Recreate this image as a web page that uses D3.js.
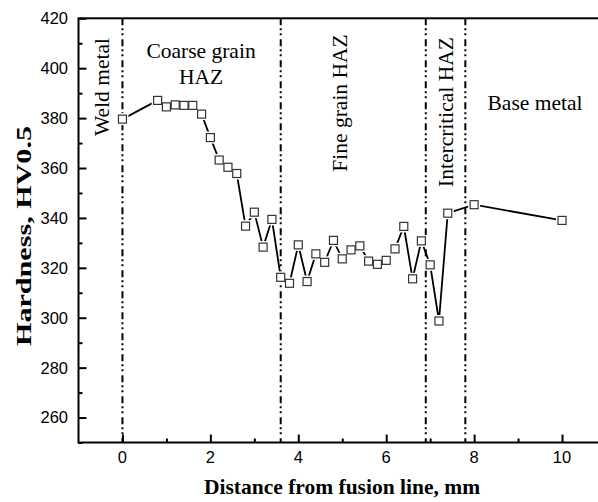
<!DOCTYPE html>
<html>
<head>
<meta charset="utf-8">
<script src="https://cdn.jsdelivr.net/npm/d3@7"></script>
<style>
  body { margin: 0; background: #fff; }
  svg { display: block; }
</style>
</head>
<body>
<div id="chart"></div>
<script>
'use strict';

// distancia a la linea de fusion (mm) y dureza HV0.5
const distance = [0, 0.8, 1.0, 1.2, 1.4, 1.6, 1.8, 2.0, 2.2, 2.4, 2.6, 2.8, 3.0, 3.2, 3.4,
  3.6, 3.8, 4.0, 4.2, 4.4, 4.6, 4.8, 5.0, 5.2, 5.4, 5.6, 5.8, 6.0, 6.2, 6.4, 6.6,
  6.8, 7.0, 7.2, 7.4, 8.0, 10.0];
const hardness = [379.6, 387.1, 384.5, 385.3, 385.1, 385.1, 381.6, 372.2, 363.2, 360.3, 357.8,
  336.7, 342.3, 328.3, 339.4, 316.2, 313.8, 329.2, 314.5, 325.6, 322.2, 331, 323.6,
  327.2, 328.8, 322.7, 321.4, 323, 327.6, 336.6, 315.6, 330.8, 321.2, 298.7, 341.9,
  345.3, 339];

// limites de zona
const boundaries = [0, 3.6, 6.9, 7.8];

const xTicks = [0, 2, 4, 6, 8, 10];
const xMinor = [1, 3, 5, 7, 9];
const yTicks = [260, 280, 300, 320, 340, 360, 380, 400, 420];
const yMinor = [250, 270, 290, 310, 330, 350, 370, 390, 410];

const xTitle = 'Distance from fusion line, mm';
const yTitle = 'Hardness, HV0.5';

const width = 598;
const height = 502;
const serif = "'Liberation Serif', 'Times New Roman', serif";
const sans = "'Liberation Sans', Arial, sans-serif";

const svg = d3.select('#chart')
  .append('svg')
  .attr('width', width)
  .attr('height', height);

const scaleX = d3.scaleLinear().domain([-1, 11]).range([78.5, 606]);
const scaleY = d3.scaleLinear().domain([250, 420]).range([442.5, 18.3]);

// lineas de zona
svg.append('g')
  .selectAll('line')
  .data(boundaries)
  .enter()
  .append('line')
  .attr('x1', d => scaleX(d))
  .attr('x2', d => scaleX(d))
  .attr('y1', scaleY(420))
  .attr('y2', scaleY(250))
  .attr('stroke', '#000')
  .attr('stroke-width', 2)
  .attr('stroke-dasharray', '7,3,2,3,2,4');

// ejes (ticks hacia dentro)
function ticks(axis) {
  return g => g
    .call(axis)
    .call(s => s.select('.domain').remove())
    .call(s => s.selectAll('line').attr('stroke-width', 2));
}

svg.append('g')
  .attr('transform', `translate(0, ${scaleY(250)})`)
  .call(ticks(d3.axisTop(scaleX).tickValues(xTicks).tickSize(8).tickFormat('')));

svg.append('g')
  .attr('transform', `translate(0, ${scaleY(250)})`)
  .call(ticks(d3.axisTop(scaleX).tickValues(xMinor).tickSize(4).tickFormat('')));

svg.append('g')
  .attr('transform', `translate(${scaleX(-1)}, 0)`)
  .call(ticks(d3.axisRight(scaleY).tickValues(yTicks).tickSize(8).tickFormat('')));

svg.append('g')
  .attr('transform', `translate(${scaleX(-1)}, 0)`)
  .call(ticks(d3.axisRight(scaleY).tickValues(yMinor).tickSize(4).tickFormat('')));

// marco
svg.append('rect')
  .attr('x', scaleX(-1))
  .attr('y', scaleY(420))
  .attr('width', scaleX(11) - scaleX(-1))
  .attr('height', scaleY(250) - scaleY(420))
  .attr('fill', 'none')
  .attr('stroke', '#000')
  .attr('stroke-width', 2);

// etiquetas de ticks
svg.append('g')
  .selectAll('text')
  .data(xTicks)
  .enter()
  .append('text')
  .attr('x', d => scaleX(d))
  .attr('y', 463)
  .attr('text-anchor', 'middle')
  .attr('font-family', sans)
  .attr('font-size', 16.5)
  .text(d => d);

svg.append('g')
  .selectAll('text')
  .data(yTicks)
  .enter()
  .append('text')
  .attr('x', 68)
  .attr('y', d => scaleY(d))
  .attr('dy', '0.36em')
  .attr('text-anchor', 'end')
  .attr('font-family', sans)
  .attr('font-size', 16.5)
  .text(d => d);

// titulos
svg.append('text')
  .attr('x', 342)
  .attr('y', 494)
  .attr('text-anchor', 'middle')
  .attr('font-family', serif)
  .attr('font-weight', 'bold')
  .attr('font-size', 21.5)
  .text(xTitle);

svg.append('text')
  .attr('transform', 'translate(31, 236) rotate(-90)')
  .attr('text-anchor', 'middle')
  .attr('font-family', serif)
  .attr('font-weight', 'bold')
  .attr('font-size', 21.5)
  .attr('textLength', 220)
  .attr('lengthAdjust', 'spacingAndGlyphs')
  .text(yTitle);

// zonas
function label(txt, x, y, rotate) {
  svg.append('text')
    .attr('transform', `translate(${x}, ${y})` + (rotate ? ' rotate(-90)' : ''))
    .attr('text-anchor', 'middle')
    .attr('font-family', serif)
    .attr('font-size', 21.5)
    .text(txt);
}
label('Weld metal', 109, 87, true);
label('Coarse grain', 201, 58, false);
label('HAZ', 201, 84, false);
label('Fine grain HAZ', 347, 103, true);
label('Intercritical HAZ', 453, 112, true);
label('Base metal', 535, 110, false);

// serie
const line = d3.line()
  .x((d, i) => scaleX(distance[i]))
  .y(d => scaleY(d));

svg.append('path')
  .datum(hardness)
  .attr('d', line)
  .attr('fill', 'none')
  .attr('stroke', '#000')
  .attr('stroke-width', 1.8);

// hueco blanco alrededor de los simbolos
svg.append('g')
  .selectAll('rect')
  .data(hardness)
  .enter()
  .append('rect')
  .attr('x', (d, i) => scaleX(distance[i]) - 6)
  .attr('y', d => scaleY(d) - 6)
  .attr('width', 12)
  .attr('height', 12)
  .attr('fill', '#fff');

svg.append('g')
  .selectAll('rect')
  .data(hardness)
  .enter()
  .append('rect')
  .attr('x', (d, i) => scaleX(distance[i]) - 4)
  .attr('y', d => scaleY(d) - 4)
  .attr('width', 8)
  .attr('height', 8)
  .attr('fill', '#fff')
  .attr('stroke', '#333')
  .attr('stroke-width', 1.2);
</script>
</body>
</html>
